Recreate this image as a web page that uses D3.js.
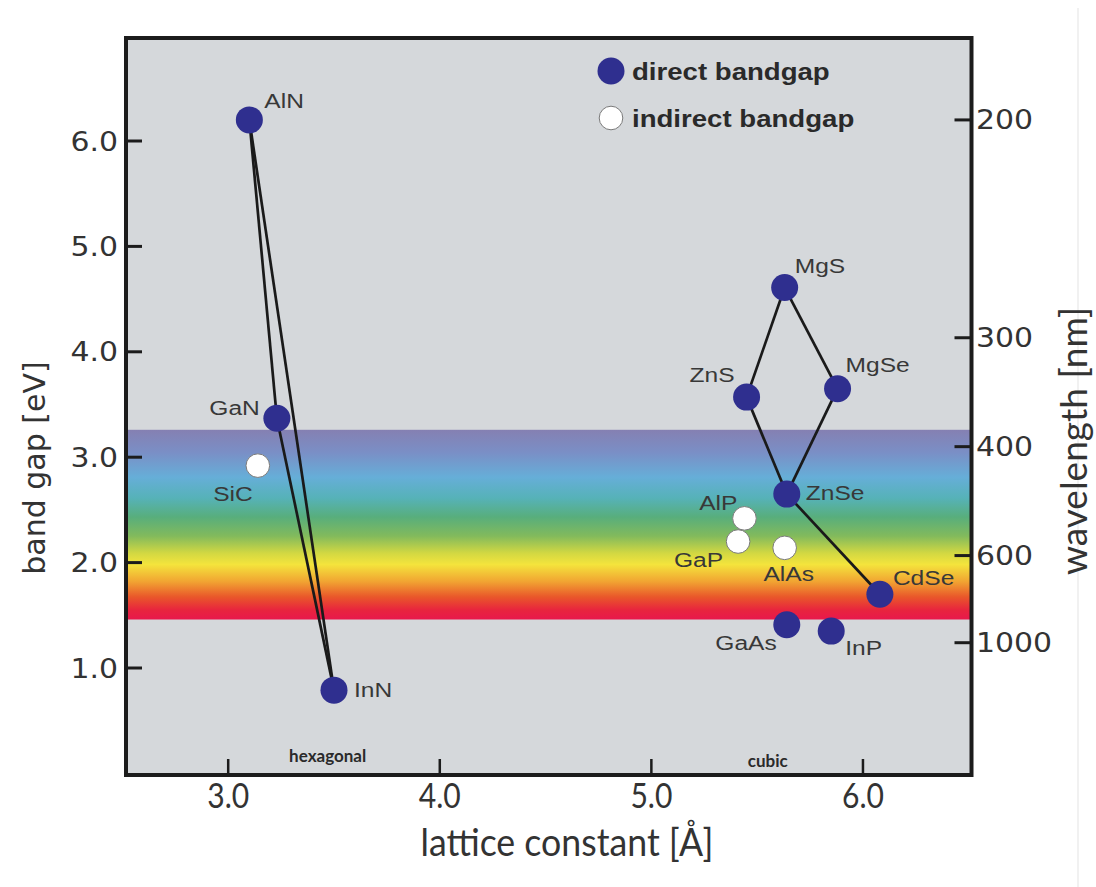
<!DOCTYPE html>
<html><head><meta charset="utf-8">
<script src="https://cdn.jsdelivr.net/npm/d3@7"></script>
<style>body{margin:0;background:#fff;} svg{display:block}</style>
</head><body><svg id="c" width="1096" height="887"></svg>
<script>
// ---------------- data ----------------
const materials       = ["AlN","GaN","InN","SiC","MgS","ZnS","MgSe","ZnSe","CdSe","GaAs","InP","AlP","GaP","AlAs"];
const latticeConstant = [3.10, 3.23, 3.50, 3.14, 5.63, 5.45, 5.88, 5.64, 6.08, 5.64, 5.85, 5.44, 5.41, 5.63];
const bandGap         = [6.20, 3.37, 0.79, 2.92, 4.61, 3.57, 3.65, 2.65, 1.70, 1.41, 1.35, 2.42, 2.20, 2.14];
const gapType         = ["direct","direct","direct","indirect","direct","direct","direct","direct","direct","direct","direct","indirect","indirect","indirect"];
const alloyLinks      = [["AlN","GaN"],["GaN","InN"],["AlN","InN"],["ZnS","MgS"],["MgS","MgSe"],["ZnS","ZnSe"],["MgSe","ZnSe"],["ZnSe","CdSe"]];
const xTicks          = [3.0, 4.0, 5.0, 6.0];
const yTicks          = [1.0, 2.0, 3.0, 4.0, 5.0, 6.0];
const wavelengthTicks = [200, 300, 400, 600, 1000];
const visibleBand     = [1.46, 3.26];
const structureNames  = ["hexagonal", "cubic"];
const structureAt     = [3.47, 5.55];
const legendItems     = ["direct bandgap", "indirect bandgap"];
const legendTypes     = ["direct", "indirect"];

// ---------------- layout ----------------
const frame = {l:126, r:971.5, t:38, b:775};
const x = d3.scaleLinear().domain([2.517, 6.513]).range([frame.l, frame.r]);
const y = d3.scaleLinear().domain([1, 6]).range([668, 141]);
const labelPos = {
  AlN:{dx:15,dy:-12,a:"start"}, GaN:{dx:-17,dy:-3,a:"end"}, SiC:{dx:-5,dy:35,a:"end"},
  InN:{dx:20,dy:7,a:"start"}, MgS:{dx:10,dy:-15,a:"start"}, ZnS:{dx:-12,dy:-15,a:"end"},
  MgSe:{dx:8,dy:-17,a:"start"}, ZnSe:{dx:19,dy:6,a:"start"}, AlP:{dx:-7,dy:-8,a:"end"},
  GaP:{dx:-15,dy:25,a:"end"}, AlAs:{dx:4,dy:33,a:"middle"}, CdSe:{dx:13,dy:-9,a:"start"},
  GaAs:{dx:-10,dy:25,a:"end"}, InP:{dx:14,dy:24,a:"start"}
};
const blue = "#2f2f8f";
const textCol = "#333";

const svg = d3.select("#c");
const defs = svg.append("defs");
const grad = defs.append("linearGradient").attr("id","spec")
  .attr("x1",0).attr("y1",0).attr("x2",0).attr("y2",1);
[[0,"#8580b2"],[0.12,"#7a8fc6"],[0.25,"#66aed8"],[0.36,"#56b2b8"],[0.46,"#58ae7c"],
 [0.56,"#82ba5c"],[0.65,"#d2d842"],[0.71,"#f4e43c"],[0.8,"#f1a432"],[0.88,"#e9582a"],
 [0.95,"#e8243e"],[1,"#e8184c"]].forEach(s=>grad.append("stop").attr("offset",s[0]).attr("stop-color",s[1]));

function sText(g, str, px, py, opts){
  return g.append("text")
    .attr("transform",`translate(${px},${py}) scale(${opts.sx||1},1)${opts.rot?` rotate(${opts.rot})`:""}`)
    .attr("text-anchor",opts.anchor||"start")
    .style("font-family",opts.font||"'Liberation Sans', Arial, sans-serif")
    .style("font-size",opts.size+"px")
    .style("font-weight",opts.weight||"normal")
    .attr("fill",opts.fill||textCol)
    .text(str);
}

// faint page edge line
svg.append("line").attr("x1",1078).attr("x2",1078).attr("y1",8).attr("y2",887)
  .attr("stroke","#ececec").attr("stroke-width",1.5);

// plot background
svg.append("rect").attr("x",frame.l).attr("y",frame.t).attr("width",frame.r-frame.l).attr("height",frame.b-frame.t)
  .attr("fill","#d5d8db");

// visible spectrum band
svg.append("rect").attr("x",frame.l).attr("width",frame.r-frame.l)
  .attr("y",y(visibleBand[1])).attr("height",y(visibleBand[0])-y(visibleBand[1]))
  .attr("fill","url(#spec)");

const rows = materials.map((m,i)=>({name:m,a:latticeConstant[i],e:bandGap[i],type:gapType[i]}));
const byName = Object.fromEntries(rows.map(r=>[r.name,r]));

// alloy lines
svg.append("g").selectAll("line").data(alloyLinks).join("line")
  .attr("x1",d=>x(byName[d[0]].a)).attr("y1",d=>y(byName[d[0]].e))
  .attr("x2",d=>x(byName[d[1]].a)).attr("y2",d=>y(byName[d[1]].e))
  .attr("stroke","#1a1a1a").attr("stroke-width",2.7);

// points
svg.append("g").selectAll("circle").data(rows).join("circle")
  .attr("cx",d=>x(d.a)).attr("cy",d=>y(d.e))
  .attr("r",d=>d.type==="direct"?13.5:11.8)
  .attr("fill",d=>d.type==="direct"?blue:"#fff")
  .attr("stroke",d=>d.type==="direct"?"none":"#7a7a7a").attr("stroke-width",1);

// labels
const lg = svg.append("g");
rows.forEach(r=>{
  const p = labelPos[r.name];
  sText(lg, r.name, x(r.a)+p.dx, y(r.e)+p.dy, {size:21, sx:1.17, anchor:p.a, fill:"#383838"});
});

// structure labels
structureNames.forEach((s,i)=>{
  sText(svg, s, x(structureAt[i]), i===0?762:767, {size:17, anchor:"middle", font:"Lato, sans-serif", weight:"bold", fill:"#2a2a2a"});
});

// legend
legendItems.forEach((s,i)=>{
  const cy = 71 + i*47;
  svg.append("circle").attr("cx",611).attr("cy",cy).attr("r",legendTypes[i]==="direct"?13.5:11.8)
    .attr("fill",legendTypes[i]==="direct"?blue:"#fff")
    .attr("stroke",legendTypes[i]==="direct"?"none":"#7a7a7a");
  sText(svg, s, 632, cy+9, {size:23, sx:1.2, weight:"bold", fill:"#2a2a2a"});
});

// frame
svg.append("rect").attr("x",frame.l).attr("y",frame.t).attr("width",frame.r-frame.l).attr("height",frame.b-frame.t)
  .attr("fill","none").attr("stroke","#1c1c1c").attr("stroke-width",4);

// left axis ticks
const ax = svg.append("g");
yTicks.forEach(v=>{
  ax.append("line").attr("x1",frame.l).attr("x2",frame.l+16).attr("y1",y(v)).attr("y2",y(v))
    .attr("stroke","#1c1c1c").attr("stroke-width",3);
  sText(ax, v.toFixed(1), 118, y(v)+9.5, {size:26, sx:1.15, anchor:"end", font:"'DejaVu Sans', sans-serif"});
});
// right axis ticks (wavelength = 1240 / E)
wavelengthTicks.forEach(w=>{
  const yy = y(1240/w);
  ax.append("line").attr("x1",frame.r-17).attr("x2",frame.r).attr("y1",yy).attr("y2",yy)
    .attr("stroke","#1c1c1c").attr("stroke-width",3);
  sText(ax, String(w), 976, yy+9.5, {size:26, sx:1.15, anchor:"start", font:"'DejaVu Sans', sans-serif"});
});
// bottom ticks
xTicks.forEach(v=>{
  ax.append("line").attr("x1",x(v)).attr("x2",x(v)).attr("y1",frame.b).attr("y2",frame.b-16)
    .attr("stroke","#1c1c1c").attr("stroke-width",2.5);
  sText(ax, v.toFixed(1), x(v), 808, {size:35, sx:0.86, anchor:"middle", font:"Lato, sans-serif"});
});

// axis titles
sText(svg, "lattice constant [Å]", 567, 856, {size:38, sx:0.94, anchor:"middle", font:"Lato, sans-serif"});
sText(svg, "band gap [eV]", 45, 468, {size:30, anchor:"middle", font:"'DejaVu Sans', sans-serif", rot:-90});
sText(svg, "wavelength [nm]", 1087, 441, {size:37, anchor:"middle", font:"Lato, sans-serif", rot:-90});
</script></body></html>
